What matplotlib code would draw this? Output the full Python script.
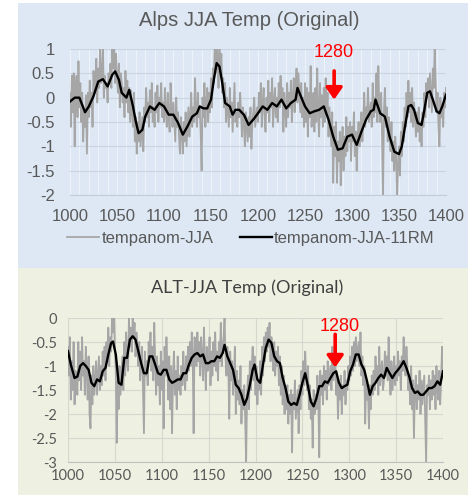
import matplotlib
matplotlib.use("Agg")
import matplotlib.pyplot as plt
from matplotlib.patches import Rectangle
import numpy as np

# ---------------- data ----------------
years = list(range(1000, 1401))

alps_raw = [
    0.1, -0.6, 0.45, -0.3, 0.5, -1.0, 0.2, 0.45, -0.4, 0.75,
    -0.2, 0.3, -0.5, 0.1, -0.9, -0.3, -0.6, 0.05, -1.15, 0.1,
    -0.4, 0.35, -0.2, 0.1, -0.6, 0.55, 0.1, 0.3, 0.8, -0.1,
    0.6, 0.2, 1.05, 0.3, 0.4, 1.05, 0.0, 0.45, 0.2, 0.3,
    -0.1, 0.5, 0.3, 0.7, 0.2, 1.05, 0.6, 1.05, 0.3, 0.9,
    0.4, 0.1, 0.7, -0.2, 0.5, 0.3, -0.1, 0.2, -0.4, 0.55,
    -0.1, 0.35, -0.3, 0.2, -0.5, 0.15, -0.3, -0.6, 0.1, -0.9,
    -0.4, -1.15, -0.5, -0.9, -0.3, -1.0, -0.7, -0.4, -1.1, -0.2,
    -0.5, 0.2, -0.4, -0.1, -0.6, 0.15, -0.3, 0.3, -0.5, -0.2,
    -0.6, 0.1, -0.3, 0.25, -0.5, 0.0, -0.2, 0.3, -0.4, -0.1,
    -0.5, 0.2, -0.3, -0.6, 0.1, -0.4, -0.7, 0.3, -0.2, -0.6,
    -0.1, -0.5, -0.9, 0.0, -0.6, -0.3, -0.8, -1.15, -0.4, -0.7,
    -1.15, -0.5, -0.9, -0.3, -1.0, -0.6, -0.2, -0.8, -0.4, 0.1,
    -0.6, -0.2, -0.5, 0.4, -0.3, -0.6, 0.1, -0.4, -0.2, -0.7,
    -1.5, 0.0, -0.4, 0.3, -0.6, -0.1, 0.2, -0.5, 0.1, -0.3,
    0.4, -0.2, 0.6, 0.3, 1.05, 0.5, 1.05, 0.8, 0.2, 1.05,
    0.5, 0.9, 0.1, 0.4, -0.2, 0.3, -0.5, 0.0, -0.3, -0.6,
    0.2, -0.4, -0.1, -0.7, -0.2, 0.3, -0.5, -0.3, -0.6, -0.1,
    -0.4, 0.1, -0.3, -0.8, -0.2, -0.5, -1.0, -0.3, -0.6, -0.9,
    -0.4, -0.8, -0.2, -1.05, -0.5, -0.3, 0.0, -0.6, -0.4, -0.2,
    -0.5, 0.1, -0.3, 0.3, -0.6, -0.1, 0.2, -0.4, -0.7, 0.0,
    -0.3, 0.35, -0.5, 0.1, -0.2, 0.4, -0.6, -0.1, 0.2, -0.4,
    0.0, -0.5, 0.3, -0.2, 0.45, -0.1, 0.2, -0.7, 0.1, -0.3,
    -0.6, 0.3, -0.4, 0.1, -0.2, 0.35, -0.5, 0.0, 0.4, -0.3,
    0.2, 0.6, -0.1, 0.5, 0.1, -0.3, 0.3, -0.4, 0.0, -0.6,
    0.3, -0.5, 0.2, -0.8, 0.1, -0.4, 0.65, -0.6, -0.2, 0.1,
    -0.7, 0.2, -0.5, 0.6, -0.3, -0.8, 0.3, -0.4, 0.05, -0.6,
    0.2, -0.5, 0.4, -0.3, 0.1, -0.8, -0.2, -0.6, -1.0, -0.3,
    -1.75, -0.6, -1.2, -0.5, -1.75, -0.9, -1.3, -0.7, -1.8, -1.0,
    -0.6, -1.5, -0.8, -1.2, -0.4, -1.1, -0.6, -0.9, -0.5, -1.3,
    -0.6, -0.9, -0.3, -1.2, -0.7, -1.5, -0.8, -0.5, -1.0, -0.6,
    -0.3, -0.9, -0.5, 0.1, -0.6, -0.2, -0.4, 0.2, -0.5, -0.3,
    -0.1, -0.6, 0.3, -0.4, 0.0, -0.3, 0.5, -0.5, 0.65, -0.2,
    -0.5, 0.1, -0.8, -2.0, -0.3, 0.2, -0.6, -0.2, -0.9, -0.4,
    -0.7, -1.1, -0.5, -1.3, -0.9, -1.5, -0.8, -1.2, -2.0, -1.4,
    -1.0, -1.6, -0.7, -1.2, -0.5, -0.9, -0.2, -0.6, 0.1, -0.4,
    0.35, -0.3, 0.1, -0.5, 0.2, -0.6, -0.1, -0.4, -0.8, -0.3,
    -0.7, -0.2, -0.9, -0.5, -1.0, -0.3, -0.6, 0.1, -0.4, 0.3,
    0.0, 0.4, -0.2, 0.5, 0.1, -0.3, 0.6, 0.2, 1.05, 0.3,
    -0.3, 0.1, -0.6, -1.0, 0.0, -0.4, -0.2, -0.6, 0.1, -0.2,
    0.2,
]

alps_rm_years = [
    1000, 1005, 1010, 1016, 1020, 1025, 1030, 1035, 1040, 1045, 1048, 1052,
    1055, 1060, 1063, 1067, 1070, 1073, 1077, 1080, 1085, 1090, 1095, 1100,
    1105, 1110, 1115, 1120, 1125, 1130, 1135, 1138, 1142, 1146, 1150, 1153,
    1156, 1159, 1162, 1165, 1170, 1173, 1176, 1180, 1185, 1190, 1195, 1200,
    1205, 1210, 1215, 1220, 1225, 1230, 1235, 1240, 1242, 1247, 1250, 1255,
    1260, 1265, 1270, 1275, 1280, 1285, 1290, 1295, 1300, 1305, 1310, 1315,
    1320, 1323, 1325, 1330, 1335, 1340, 1345, 1350, 1353, 1357, 1360, 1363,
    1366, 1370, 1374, 1377, 1380, 1383, 1386, 1390, 1393, 1396, 1400,
]
alps_rm = [
    -0.08, 0.0, 0.0, -0.3, -0.18, 0.03, 0.33, 0.38, 0.23, 0.47, 0.54, 0.37,
    0.1, 0.0, 0.16, -0.18, -0.49, -0.73, -0.66, -0.39, -0.18, -0.25, -0.11, -0.18,
    -0.35, -0.35, -0.52, -0.76, -0.59, -0.39, -0.32, -0.18, -0.22, -0.22, -0.04, 0.37,
    0.71, 0.64, 0.30, -0.11, -0.18, -0.35, -0.25, -0.25, -0.35, -0.56, -0.45, -0.32,
    -0.18, -0.25, -0.11, -0.18, -0.04, -0.22, -0.11, -0.04, 0.2, -0.04, -0.18, -0.32,
    -0.28, -0.25, -0.18, -0.45, -0.8, -1.07, -1.04, -0.8, -0.76, -0.97, -0.70, -0.45,
    -0.28, -0.25, -0.04, -0.32, -0.39, -0.8, -1.11, -1.16, -1.0, -0.52, -0.18, -0.15,
    -0.25, -0.52, -0.56, -0.25, 0.1, 0.13, -0.04, -0.28, -0.32, -0.18, 0.06,
]

alt_raw = [
    -0.6, -1.2, -0.4, -1.7, -0.9, -1.5, -0.5, -1.8, -1.1, -1.4,
    -1.6, -0.5, -1.3, -0.7, -1.5, -0.4, -1.2, -0.9, -1.6, -0.6,
    -1.1, -1.7, -0.8, -2.0, -2.3, -1.2, -1.8, -1.0, -1.6, -1.3,
    -0.9, -1.6, -1.2, -0.8, -1.5, -1.0, -1.4, -0.7, -1.2, -0.6,
    -1.3, -0.5, -0.9, -0.2, -1.0, -0.4, -0.7, 0.0, -0.3, 0.0,
    -0.6, -1.1, -2.6, -1.3, -1.9, -1.0, -1.6, -1.2, -0.8, -1.5,
    -0.5, -1.2, -0.3, -0.9, -1.1, 0.0, -0.6, -0.2, -0.7, 0.0,
    -0.4, -0.1, -0.8, -0.3, -0.6, -1.0, -0.5, -1.3, -0.9, -0.6,
    -1.5, -2.4, -0.7, -1.2, -0.9, -1.4, -0.5, -0.8, -0.3, -1.1,
    -0.6, -1.3, -0.1, -0.9, -1.6, -0.8, -1.4, -1.0, -1.8, -0.7,
    -1.5, -0.9, -2.3, -0.6, -1.2, -0.4, -1.0, -1.7, -0.8, -1.9,
    -1.0, -2.4, -1.2, -0.7, -1.6, -1.1, -1.9, -0.8, -1.5, -1.2,
    -1.6, -1.0, -1.4, -0.7, -1.2, -1.5, -0.8, -1.3, -0.6, -1.1,
    -0.5, -1.0, -0.3, -0.8, -2.4, -0.4, -0.6, -1.0, -0.3, -0.9,
    -0.5, -1.2, -0.4, -0.8, -1.3, -0.2, -0.9, -1.5, -0.6, -1.1,
    -1.0, -0.4, -1.4, -0.7, -1.2, -0.5, -1.0, -0.3, -1.1, -0.7,
    -1.3, -0.5, -0.9, -0.1, -1.0, -0.6, -0.4, 0.0, -0.8, -1.2,
    -0.6, -1.0, -2.1, -0.7, -1.3, -0.9, -1.6, -1.2, -0.6, -2.0,
    -1.1, -1.7, -1.3, -1.8, -1.0, -2.2, -1.5, -1.9, -1.4, -2.1,
    -3.0, -1.6, -1.2, -1.9, -0.9, -1.5, -1.0, -0.6, -1.3, -0.8,
    -1.6, -1.0, -1.8, -1.3, -1.5, -0.9, -1.6, -0.6, -1.2, -0.4,
    -0.9, -0.3, -0.7, -0.2, -0.6, -0.1, -0.9, -0.4, -0.8, -1.1,
    -0.5, -1.2, -0.7, -1.0, -0.6, -1.4, -0.8, -1.6, -1.0, -1.8,
    -1.2, -2.0, -1.5, -1.9, -1.4, -2.2, -1.6, -2.0, -1.5, -2.8,
    -1.6, -1.9, -1.3, -2.1, -1.8, -1.5, -2.4, -1.4, -1.9, -1.1,
    -1.6, -0.9, -1.4, -0.7, -1.2, -1.5, -1.0, -1.9, -1.4, -2.1,
    -1.7, -2.7, -1.5, -2.0, -1.6, -1.9, -1.2, -1.6, -2.9, -1.1,
    -1.6, -1.2, -1.8, -1.0, -1.5, -1.1, -1.7, -0.9, -1.4, -1.2,
    -1.0, -1.5, -0.6, -1.3, -1.0, -0.8, -1.6, -1.2, -2.1, -1.4,
    -1.7, -1.2, -2.0, -1.4, -1.6, -1.1, -1.8, -1.3, -1.5, -1.0,
    -1.3, -0.8, -1.2, -0.6, -1.1, -0.5, -1.0, -0.4, -0.9, -0.7,
    -0.5, -1.0, -0.3, -1.2, -0.8, -1.4, -1.0, -2.2, -1.3, -1.7,
    -1.5, -2.3, -1.4, -1.9, -1.2, -1.6, -1.1, -1.5, -0.8, -1.3,
    -1.0, -1.6, -0.6, -1.4, -1.1, -0.9, -1.5, -1.3, -0.7, -1.2,
    -0.8, -1.3, -0.4, -1.1, -1.6, -0.9, -1.5, -1.2, -0.8, -1.4,
    -1.0, -1.3, -0.7, -1.2, -0.9, -1.5, -0.8, -1.1, -0.4, -0.9,
    -1.2, -0.6, -1.0, -1.5, -1.2, -1.8, -1.0, -1.9, -1.3, -2.5,
    -1.5, -1.2, -1.9, -1.4, -1.7, -1.1, -2.0, -1.3, -1.8, -1.5,
    -1.2, -2.1, -3.0, -1.4, -1.6, -1.2, -1.9, -1.3, -1.7, -1.1,
    -1.6, -1.2, -1.9, -1.0, -1.5, -1.7, -1.1, -1.8, -1.3, -0.6,
    -1.2,
]

alt_rm_years = [
    1000, 1003, 1007, 1010, 1013, 1016, 1019, 1022, 1025, 1028, 1031, 1034,
    1037, 1040, 1043, 1046, 1048, 1051, 1054, 1057, 1060, 1063, 1066, 1069,
    1072, 1075, 1078, 1081, 1084, 1087, 1090, 1093, 1096, 1099, 1102, 1105,
    1108, 1111, 1114, 1117, 1120, 1123, 1126, 1129, 1132, 1135, 1138, 1141,
    1144, 1147, 1150, 1153, 1156, 1159, 1162, 1165, 1167, 1170, 1173, 1176,
    1179, 1182, 1185, 1188, 1191, 1194, 1197, 1199, 1202, 1205, 1208, 1211,
    1214, 1217, 1220, 1223, 1226, 1229, 1232, 1235, 1238, 1241, 1244, 1247,
    1250, 1253, 1256, 1259, 1262, 1265, 1268, 1271, 1274, 1277, 1280, 1283,
    1286, 1289, 1292, 1295, 1298, 1301, 1304, 1307, 1310, 1313, 1316, 1319,
    1322, 1325, 1328, 1331, 1334, 1337, 1340, 1343, 1346, 1349, 1352, 1355,
    1358, 1361, 1364, 1367, 1370, 1373, 1376, 1379, 1382, 1385, 1388, 1391,
    1394, 1397, 1400,
]
alt_rm = [
    -0.69, -0.97, -1.25, -1.22, -1.0, -0.94, -1.0, -1.08, -1.35, -1.42, -1.28, -1.32,
    -1.11, -1.04, -0.76, -0.52, -0.49, -0.76, -1.35, -1.39, -0.83, -0.83, -0.45, -0.38,
    -0.45, -0.69, -0.94, -1.15, -1.15, -0.80, -0.80, -0.97, -1.15, -1.18, -1.08, -1.08,
    -1.28, -1.35, -1.32, -1.28, -1.28, -1.15, -1.15, -0.97, -0.83, -0.76, -0.73, -0.80,
    -0.76, -0.94, -0.94, -0.90, -0.90, -0.80, -0.83, -0.73, -0.56, -0.80, -0.94, -1.08,
    -1.39, -1.46, -1.60, -1.81, -1.67, -1.39, -1.08, -0.97, -1.28, -1.35, -0.97, -0.62,
    -0.45, -0.52, -0.80, -0.90, -0.94, -1.25, -1.46, -1.74, -1.81, -1.77, -1.81, -1.60,
    -1.35, -1.15, -1.42, -1.74, -1.84, -1.67, -1.42, -1.42, -1.32, -1.35, -1.25, -1.15,
    -1.11, -1.35, -1.46, -1.42, -1.39, -1.11, -0.97, -0.76, -0.76, -0.97, -1.08, -1.32,
    -1.60, -1.42, -1.35, -1.25, -1.18, -1.25, -1.04, -1.15, -1.25, -1.15, -1.08, -1.0,
    -0.90, -1.04, -1.22, -1.46, -1.56, -1.53, -1.60, -1.60, -1.53, -1.46, -1.46, -1.42,
    -1.32, -1.39, -1.11,
]

x_ticks = [1000, 1050, 1100, 1150, 1200, 1250, 1300, 1350, 1400]
alps_yticks = [1, 0.5, 0, -0.5, -1, -1.5, -2]
alps_ylabels = ["1", "0.5", "0", "-0.5", "-1", "-1.5", "-2"]
alt_yticks = [0, -0.5, -1, -1.5, -2, -2.5, -3]
alt_ylabels = ["0", "-0.5", "-1", "-1.5", "-2", "-2.5", "-3"]

# ---------------- figure ----------------
W, H = 468, 495
fig = plt.figure(figsize=(W / 100, H / 100), dpi=100)
fig.patch.set_facecolor("white")

BLUE = "#dde8f4"
GREEN = "#eef0e1"
fig.patches.append(Rectangle((18 / W, 1 - 268 / H), 1 - 18 / W, 265 / H,
                             transform=fig.transFigure, facecolor=BLUE,
                             edgecolor="none", zorder=-10))
fig.patches.append(Rectangle((18 / W, 0), 1 - 18 / W, 1 - 268 / H,
                             transform=fig.transFigure, facecolor=GREEN,
                             edgecolor="none", zorder=-10))

TXT = "#595959"
ARIAL = "Liberation Sans"
CAL = "Lato"

# ---- top panel ----
ax1 = fig.add_axes([70 / W, 1 - 195 / H, 376 / W, 146 / H])
ax1.set_zorder(2)
ax1.patch.set_alpha(0)
ax1.set_xlim(1000, 1400)
ax1.set_ylim(-2, 1)
ax1.set_xticks(x_ticks)
ax1.set_xticks(range(1000, 1401, 10), minor=True)
ax1.set_yticks(alps_yticks)
ax1.set_yticklabels(alps_ylabels)
for s in ["top", "right", "left"]:
    ax1.spines[s].set_visible(False)
ax1.spines["bottom"].set_color("#c4ccd6")
ax1.spines["bottom"].set_linewidth(0.8)
ax1.tick_params(axis="both", which="both", length=0)
ax1.tick_params(axis="y", pad=11, labelsize=12, labelcolor=TXT)
ax1.tick_params(axis="x", pad=10, labelsize=12, labelcolor=TXT)
for lab in ax1.get_xticklabels() + ax1.get_yticklabels():
    lab.set_fontfamily(ARIAL)
ax1.grid(True, axis="x", which="both", color="#eef3f9", lw=0.8, zorder=0)
ax1.grid(True, axis="y", which="major", color="#cbd5e0", lw=0.8, zorder=0)
ax1.set_axisbelow(True)
l1, = ax1.plot(years, alps_raw, color="#a6a6a6", lw=1.3, label="tempanom-JJA", zorder=2)
l2, = ax1.plot(alps_rm_years, alps_rm, color="black", lw=1.7,
               label="tempanom-JJA-11RM", zorder=3)
ax1.annotate("", xy=(1281, -0.04), xytext=(1281, 0.55),
             arrowprops=dict(arrowstyle="-|>,head_width=0.35,head_length=0.5",
                             color="#ff0000", lw=2.6, mutation_scale=14,
                             shrinkA=0, shrinkB=0), zorder=5)
ax1.text(1281, 0.92, "1280", color="#ff0000", fontsize=13, family=ARIAL,
         ha="center", va="center", zorder=5)
fig.text(249 / W, 1 - 21 / H, "Alps JJA Temp (Original)", ha="center",
         va="center", fontsize=14.5, family=ARIAL, color=TXT)
leg = fig.legend(handles=[l1, l2], loc="center", bbox_to_anchor=(251 / W, 1 - 238 / H),
                 ncol=2, frameon=False, handlelength=1.9, handletextpad=0.15,
                 columnspacing=1.6, prop={"family": ARIAL, "size": 12})
for t in leg.get_texts():
    t.set_color(TXT)

# ---- bottom panel ----
ax2 = fig.add_axes([68 / W, 1 - 462 / H, 375 / W, 144 / H])
ax2.set_zorder(2)
ax2.patch.set_alpha(0)
ax2.set_xlim(1000, 1400)
ax2.set_ylim(-3, 0)
ax2.set_xticks(x_ticks)
ax2.set_yticks(alt_yticks)
ax2.set_yticklabels(alt_ylabels)
for s in ["top", "right", "left"]:
    ax2.spines[s].set_visible(False)
ax2.spines["bottom"].set_color("#bfbfbf")
ax2.spines["bottom"].set_linewidth(0.8)
ax2.tick_params(axis="both", which="both", length=0)
ax2.tick_params(axis="y", pad=8, labelsize=10.5, labelcolor=TXT)
ax2.tick_params(axis="x", pad=5, labelsize=10.5, labelcolor=TXT)
for lab in ax2.get_xticklabels() + ax2.get_yticklabels():
    lab.set_fontfamily(CAL)
ax2.grid(True, color="#d6d8cf", lw=0.8, zorder=0)
ax2.set_axisbelow(True)
ax2.plot(years, alt_raw, color="#a6a6a6", lw=1.3, zorder=2)
ax2.plot(alt_rm_years, alt_rm, color="black", lw=1.7, zorder=3)
ax2.annotate("", xy=(1285, -1.03), xytext=(1285, -0.34),
             arrowprops=dict(arrowstyle="-|>,head_width=0.35,head_length=0.5",
                             color="#ff0000", lw=2.6, mutation_scale=14,
                             shrinkA=0, shrinkB=0), zorder=5)
ax2.text(1290, -0.17, "1280", color="#ff0000", fontsize=13, family=ARIAL,
         ha="center", va="center", zorder=5)
fig.text(247 / W, 1 - 288 / H, "ALT-JJA Temp (Original)", ha="center",
         va="center", fontsize=13, family=CAL, color="#404040")

fig.savefig("out.png", dpi=100)
